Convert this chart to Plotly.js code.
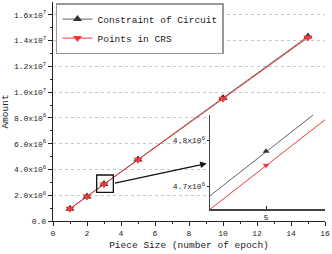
<!DOCTYPE html>
<html>
<head>
<meta charset="utf-8">
<script src="https://cdn.plot.ly/plotly-3.0.1.min.js"></script>
<style>html,body{margin:0;padding:0;background:#fff;}#chart{width:332px;height:254px;}</style>
</head>
<body>
<div id="chart"></div>
<script>
// Data
const pieceSize = [1, 2, 3, 5, 10, 15];
const constraintOfCircuit = [0.955e6, 1.91e6, 2.865e6, 4.776e6, 9.55e6, 1.433e7];
const pointsInCRS = [0.949e6, 1.898e6, 2.848e6, 4.746e6, 9.49e6, 1.424e7];

const seriesNames = ["Constraint of Circuit", "Points in CRS"];
const xTickVals = [0, 2, 4, 6, 8, 10, 12, 14, 16];
const yTickVals = [0, 2e6, 4e6, 6e6, 8e6, 1e7, 1.2e7, 1.4e7, 1.6e7];
const yTickText = ["0.0", "2.0x10<sup>6</sup>", "4.0x10<sup>6</sup>", "6.0x10<sup>6</sup>",
  "8.0x10<sup>6</sup>", "1.0x10<sup>7</sup>", "1.2x10<sup>7</sup>", "1.4x10<sup>7</sup>", "1.6x10<sup>7</sup>"];
const insetXTickVals = [5];
const insetYTickVals = [4.7e6, 4.8e6];
const insetYTickText = ["4.7x10<sup>6</sup>", "4.8x10<sup>6</sup>"];

const FONT = "Liberation Mono, Courier New, monospace";
const grayLine = "#606060", blackMk = "#333333", red = "#ee3a3a";

function traces(xa, ya, showleg, msize) {
  return [
    {x: pieceSize, y: constraintOfCircuit, name: seriesNames[0], type: "scatter", mode: "lines+markers",
     xaxis: xa, yaxis: ya, showlegend: showleg,
     line: {color: grayLine, width: 1}, marker: {symbol: "triangle-up", size: msize, color: blackMk}},
    {x: pieceSize, y: pointsInCRS, name: seriesNames[1], type: "scatter", mode: "lines+markers",
     xaxis: xa, yaxis: ya, showlegend: showleg,
     line: {color: red, width: 1}, marker: {symbol: "triangle-down", size: msize, color: red}}
  ];
}

const data = traces("x", "y", true, 8).concat(traces("x2", "y2", false, 6));

const layout = {
  width: 332, height: 254,
  margin: {l: 53, r: 7, t: 2, b: 33},
  paper_bgcolor: "#fff", plot_bgcolor: "#fff",
  font: {family: FONT, size: 8, color: "#222"},
  showlegend: true,
  legend: {x: 0.011, y: 0.995, xanchor: "left", yanchor: "top",
    bgcolor: "#fff", bordercolor: "#999", borderwidth: 1.5,
    font: {family: FONT, size: 9.5, color: "#222"}, tracegroupgap: 0, itemwidth: 30},
  xaxis: {range: [0, 16], tickvals: xTickVals, ticks: "outside", ticklen: 4, tickwidth: 1,
    tickcolor: "#222", showline: true, linecolor: "#222", linewidth: 1.3, showgrid: false,
    zeroline: false, minor: {dtick: 1, ticks: "outside", ticklen: 2, tickcolor: "#222"},
    title: {text: "Piece Size (number of epoch)", font: {family: FONT, size: 9.5}, standoff: 4}},
  yaxis: {range: [0, 1.7e7], tickvals: yTickVals, ticktext: yTickText, ticks: "outside", ticklen: 4,
    tickcolor: "#222", showline: true, linecolor: "#222", linewidth: 1.3,
    showgrid: true, gridcolor: "#c8c8c8", griddash: "dot", gridwidth: 1, zeroline: false,
    minor: {tickvals: [1e6, 3e6, 5e6, 7e6, 9e6, 1.1e7, 1.3e7, 1.5e7], ticks: "outside", ticklen: 2, tickcolor: "#222", showgrid: false},
    title: {text: "Amount", font: {family: FONT, size: 9.5}, standoff: 4}},
  xaxis2: {domain: [0.577, 1], anchor: "y2", range: [4.9, 5.105], tickvals: insetXTickVals,
    ticks: "inside", ticklen: 3, tickcolor: "#222", showline: true, linecolor: "#444", linewidth: 1.3,
    showgrid: false, zeroline: false},
  yaxis2: {domain: [0.053, 0.484], anchor: "x2", range: [4.65e6, 4.855e6], tickvals: insetYTickVals,
    ticktext: insetYTickText, ticks: "outside", ticklen: 2, tickcolor: "#222", showline: true,
    linecolor: "#444", linewidth: 1.3, showgrid: false, zeroline: false},
  shapes: [
    {type: "rect", xref: "x", yref: "y", x0: 2.57, x1: 3.55, y0: 2.22e6, y1: 3.57e6,
     line: {color: "#111", width: 1.3}}
  ],
  annotations: [
    {xref: "x", yref: "y", axref: "x", ayref: "y", x: 9.04, y: 4.47e6, ax: 3.55, ay: 2.92e6,
     text: "", showarrow: true, arrowhead: 2, arrowsize: 1, arrowwidth: 1.3, arrowcolor: "#111"}
  ]
};

Plotly.newPlot("chart", data, layout, {staticPlot: true, displayModeBar: false});
</script>
</body>
</html>
